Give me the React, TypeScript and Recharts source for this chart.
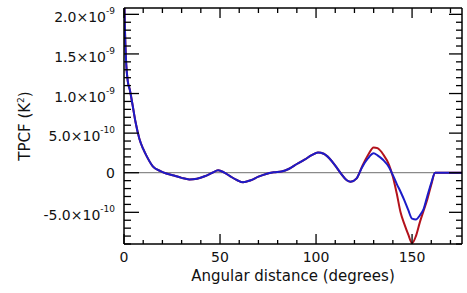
import React from 'react';
import { LineChart, Line, XAxis, YAxis, ReferenceLine } from 'recharts';

// angular distance in degrees, TPCF in units of 1e-10 K^2
const angles = [
  0, 0.5, 1, 2, 3, 4.5, 6, 8, 10, 12, 15, 19, 22, 26, 30, 34, 38, 42, 46, 49, 52, 55, 59, 62, 66,
  70, 74, 78, 82, 86, 90, 94, 98, 101, 104, 107, 110, 113, 116, 118, 121, 124, 127, 130, 132, 135,
  138, 140, 142, 144, 146, 148, 150, 152, 154, 156, 158, 160, 162, 165, 170, 176,
];

const blueTpcf = [
  24, 18, 14.5, 11.5, 10.5, 8.5, 6.4, 4.3, 3.0, 2.0, 0.8, 0.2, -0.1, -0.35, -0.65, -0.85, -0.75,
  -0.45, 0.0, 0.3, 0.05, -0.4, -0.95, -1.2, -0.95, -0.5, -0.15, 0.05, 0.15, 0.5, 1.1, 1.65, 2.25,
  2.55, 2.4, 1.8, 0.9, -0.1, -0.95, -1.15, -0.75, 0.7, 1.8, 2.45, 2.2, 1.6, 0.7, -0.3, -1.4, -2.4,
  -3.5, -4.7, -5.8, -5.9, -5.4, -4.6, -2.9, -1.3, 0, 0, 0, 0,
];

const redTpcf = [
  24, 18, 14.5, 11.5, 10.5, 8.5, 6.4, 4.3, 3.0, 2.0, 0.8, 0.2, -0.1, -0.35, -0.65, -0.85, -0.75,
  -0.45, 0.0, 0.3, 0.05, -0.4, -0.95, -1.2, -0.95, -0.5, -0.15, 0.05, 0.15, 0.5, 1.1, 1.65, 2.25,
  2.55, 2.4, 1.8, 0.9, -0.1, -0.95, -1.15, -0.75, 0.8, 2.2, 3.2, 3.1, 2.3, 1.0, -0.5, -2.6, -5.0,
  -6.5, -7.8, -8.9, -8.0, -6.3, -4.8, -3.3, -1.5, 0, 0, 0, 0,
];

const xTicks = [0, 10, 20, 30, 40, 50, 60, 70, 80, 90, 100, 110, 120, 130, 140, 150, 160, 170];
const yTicks = [
  -9, -8, -7, -6, -5, -4, -3, -2, -1, 0, 1, 2, 3, 4, 5, 6, 7, 8, 9, 10, 11, 12, 13, 14, 15, 16, 17,
  18, 19, 20,
];
const yLabels: Record<number, [string, string]> = {
  20: ['2.0×10', '-9'],
  15: ['1.5×10', '-9'],
  10: ['1.0×10', '-9'],
  5: ['5.0×10', '-10'],
  0: ['0', ''],
  [-5]: ['-5.0×10', '-10'],
};

const data = angles.map((a, i) => ({ angle: a, blue: blueTpcf[i], red: redTpcf[i] }));

const FONT = 'DejaVu Sans';
const X_DOMAIN = [0, 176];
const Y_DOMAIN = [-9, 20.8];

const LeftTick = (props: any) => {
  const { x, y, payload } = props;
  const v = payload.value;
  const major = v % 5 === 0;
  const lab = yLabels[v];
  return (
    <g>
      <line x1={x} x2={x + (major ? 15 : 7)} y1={y} y2={y} stroke="#000" strokeWidth={1.3} />
      {lab && (
        <text x={x - 9} y={y + (lab[1] ? 8 : 5)} textAnchor="end" fontSize={14} fontFamily={FONT} fill="#111">
          {lab[0]}
          {lab[1] && (
            <tspan dy={-8} fontSize={9}>
              {lab[1]}
            </tspan>
          )}
        </text>
      )}
    </g>
  );
};

const RightTick = (props: any) => {
  const { x, y, payload } = props;
  const major = payload.value % 5 === 0;
  return <line x1={x} x2={x - (major ? 13 : 6)} y1={y} y2={y} stroke="#000" strokeWidth={1.3} />;
};

const BottomTick = (props: any) => {
  const { x, y, payload } = props;
  const major = payload.value % 50 === 0;
  return (
    <g>
      <line x1={x} x2={x} y1={y} y2={y - (major ? 10 : 4)} stroke="#000" strokeWidth={1.3} />
      {major && (
        <text x={x} y={y + 18} textAnchor="middle" fontSize={14} fontFamily={FONT} fill="#111">
          {payload.value}
        </text>
      )}
    </g>
  );
};

const TopTick = (props: any) => {
  const { x, y, payload } = props;
  const major = payload.value % 50 === 0;
  return <line x1={x} x2={x} y1={y} y2={y + (major ? 10 : 5)} stroke="#000" strokeWidth={1.3} />;
};

const XTitle = (props: any) => {
  const { x, y, width } = props.viewBox;
  return (
    <text x={x + width / 2} y={y + 37} textAnchor="middle" fontSize={15} fontFamily={FONT} fill="#111">
      Angular distance (degrees)
    </text>
  );
};

const YTitle = (props: any) => {
  const { y, height } = props.viewBox;
  const cx = 30;
  const cy = y + height / 2;
  return (
    <text
      x={cx}
      y={cy}
      transform={`rotate(-90, ${cx}, ${cy})`}
      textAnchor="middle"
      fontSize={15}
      fontFamily={FONT}
      fill="#111">
      TPCF (K
      <tspan dy={-6} fontSize={9}>
        2
      </tspan>
      <tspan dy={6}>)</tspan>
    </text>
  );
};

const axisLine = { stroke: '#000', strokeWidth: 1.5 };

export default function App() {
  return (
    <div style={{ position: 'absolute', left: 0, top: 0, background: '#fff' }}>
      <LineChart
        width={467}
        height={293}
        data={data}
        margin={{ top: 7, right: 4, bottom: 48, left: 123 }}>
        <XAxis
          dataKey="angle"
          type="number"
          domain={X_DOMAIN}
          ticks={xTicks}
          allowDataOverflow
          height={1}
          tickSize={0}
          tickMargin={0}
          tickLine={false}
          axisLine={axisLine}
          tick={<BottomTick />}
          interval={0}
          label={<XTitle />}
        />
        <XAxis
          xAxisId="top"
          orientation="top"
          dataKey="angle"
          type="number"
          domain={X_DOMAIN}
          ticks={xTicks}
          allowDataOverflow
          height={1}
          tickSize={0}
          tickMargin={0}
          tickLine={false}
          axisLine={axisLine}
          tick={<TopTick />}
          interval={0}
        />
        <YAxis
          type="number"
          domain={Y_DOMAIN}
          ticks={yTicks}
          allowDataOverflow
          width={1}
          tickSize={0}
          tickMargin={0}
          tickLine={false}
          axisLine={axisLine}
          tick={<LeftTick />}
          interval={0}
          label={<YTitle />}
        />
        <YAxis
          yAxisId="right"
          orientation="right"
          type="number"
          domain={Y_DOMAIN}
          ticks={yTicks}
          allowDataOverflow
          width={1}
          tickSize={0}
          tickMargin={0}
          tickLine={false}
          axisLine={axisLine}
          tick={<RightTick />}
          interval={0}
        />
        <ReferenceLine y={0} stroke="#8a8a8a" strokeWidth={1.3} />
        <Line
          dataKey="red"
          type="monotone"
          stroke="#b3121c"
          strokeWidth={2}
          dot={false}
          isAnimationActive={false}
        />
        <Line
          dataKey="blue"
          type="monotone"
          stroke="#1c1cc8"
          strokeWidth={2}
          dot={false}
          isAnimationActive={false}
        />
      </LineChart>
    </div>
  );
}
